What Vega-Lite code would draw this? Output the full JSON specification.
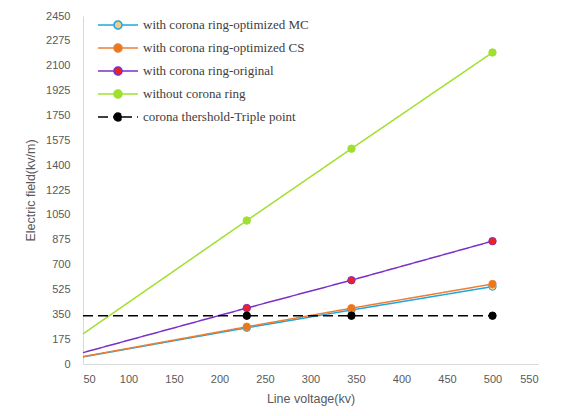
{
  "$schema": "https://vega.github.io/schema/vega-lite/v6.json",
  "width": 455,
  "height": 348,
  "autosize": {"type": "none"},
  "padding": {"left": 83, "top": 16, "right": 27, "bottom": 52},
  "background": "white",
  "config": {
    "view": {"stroke": null},
    "axis": {"labelFont": "Liberation Sans", "titleFont": "Liberation Sans", "labelColor": "#595959", "titleColor": "#595959", "labelFontSize": 11, "titleFontSize": 12.5, "titleFontWeight": "normal", "domainColor": "#D9D9D9", "ticks": false, "grid": false}
  },
  "data": {"values": [
    {"series": "with corona ring-optimized MC", "voltage": 50, "field": 50},
    {"series": "with corona ring-optimized MC", "voltage": 230, "field": 255},
    {"series": "with corona ring-optimized MC", "voltage": 345, "field": 380},
    {"series": "with corona ring-optimized MC", "voltage": 500, "field": 545},
    {"series": "with corona ring-optimized CS", "voltage": 50, "field": 52},
    {"series": "with corona ring-optimized CS", "voltage": 230, "field": 262},
    {"series": "with corona ring-optimized CS", "voltage": 345, "field": 393},
    {"series": "with corona ring-optimized CS", "voltage": 500, "field": 563},
    {"series": "with corona ring-original", "voltage": 50, "field": 80},
    {"series": "with corona ring-original", "voltage": 230, "field": 394},
    {"series": "with corona ring-original", "voltage": 345, "field": 590},
    {"series": "with corona ring-original", "voltage": 500, "field": 865},
    {"series": "without corona ring", "voltage": 50, "field": 212},
    {"series": "without corona ring", "voltage": 230, "field": 1010},
    {"series": "without corona ring", "voltage": 345, "field": 1516},
    {"series": "without corona ring", "voltage": 500, "field": 2193},
    {"series": "corona thershold-Triple point", "voltage": 50, "field": 340},
    {"series": "corona thershold-Triple point", "voltage": 230, "field": 340},
    {"series": "corona thershold-Triple point", "voltage": 345, "field": 340},
    {"series": "corona thershold-Triple point", "voltage": 500, "field": 340}
  ]},
  "encoding": {
    "x": {"field": "voltage", "type": "quantitative", "title": "Line voltage(kv)",
      "scale": {"domain": [50, 550], "nice": false, "zero": false},
      "axis": {"values": [50, 100, 150, 200, 250, 300, 350, 400, 450, 500, 550], "format": "d", "labelPadding": 9, "titlePadding": 8}},
    "y": {"field": "field", "type": "quantitative", "title": "Electric field(kv/m)",
      "scale": {"domain": [0, 2450], "nice": false},
      "axis": {"values": [0, 175, 350, 525, 700, 875, 1050, 1225, 1400, 1575, 1750, 1925, 2100, 2275, 2450], "format": "d", "labelPadding": 13, "titlePadding": 8}}
  },
  "layer": [
    {
      "mark": {"type": "line"},
      "encoding": {
        "stroke": {"field": "series", "type": "nominal",
          "scale": {"domain": ["with corona ring-optimized MC", "with corona ring-optimized CS", "with corona ring-original", "without corona ring", "corona thershold-Triple point"],
            "range": ["#1BA7E0", "#ED7D31", "#7A2FC8", "#9FE02E", "#000000"]},
          "legend": {"orient": "none", "legendX": 28, "legendY": 2, "title": null, "padding": 0,
            "symbolType": "M-3.33,0H-0.67M0.67,0H3.33M-0.67,0A0.67,0.67 0 1,0 0.67,0A0.67,0.67 0 1,0 -0.67,0Z",
            "symbolSize": 144, "symbolStrokeWidth": 1.5, "labelOffset": 18, "labelFont": "Liberation Serif", "labelFontSize": 13, "labelColor": "#404040", "rowPadding": 7, "labelLimit": 300}},
        "strokeDash": {"field": "series", "type": "nominal",
          "scale": {"domain": ["with corona ring-optimized MC", "with corona ring-optimized CS", "with corona ring-original", "without corona ring", "corona thershold-Triple point"],
            "range": [[1, 0], [1, 0], [1, 0], [1, 0], [10, 5]]},
          "legend": {"orient": "none", "legendX": 28, "legendY": 2, "title": null, "padding": 0}},
        "strokeWidth": {"field": "series", "type": "nominal",
          "scale": {"domain": ["with corona ring-optimized MC", "with corona ring-optimized CS", "with corona ring-original", "without corona ring", "corona thershold-Triple point"],
            "range": [1.5, 1.5, 1.5, 1.3, 2.2]},
          "legend": null},
        "order": {"field": "voltage", "type": "quantitative"}
      }
    },
    {
      "transform": [{"filter": "datum.voltage > 50"}],
      "mark": {"type": "point", "filled": false, "size": 55, "strokeWidth": 1, "opacity": 1},
      "encoding": {
        "fill": {"field": "series", "type": "nominal",
          "scale": {"domain": ["with corona ring-optimized MC", "with corona ring-optimized CS", "with corona ring-original", "without corona ring", "corona thershold-Triple point"],
            "range": ["#F5C98A", "#E8781C", "#EE2222", "#9FE02E", "#000000"]},
          "legend": {"orient": "none", "legendX": 28, "legendY": 2, "title": null, "padding": 0}},
        "stroke": {"field": "series", "type": "nominal"}
      }
    }
  ]
}
